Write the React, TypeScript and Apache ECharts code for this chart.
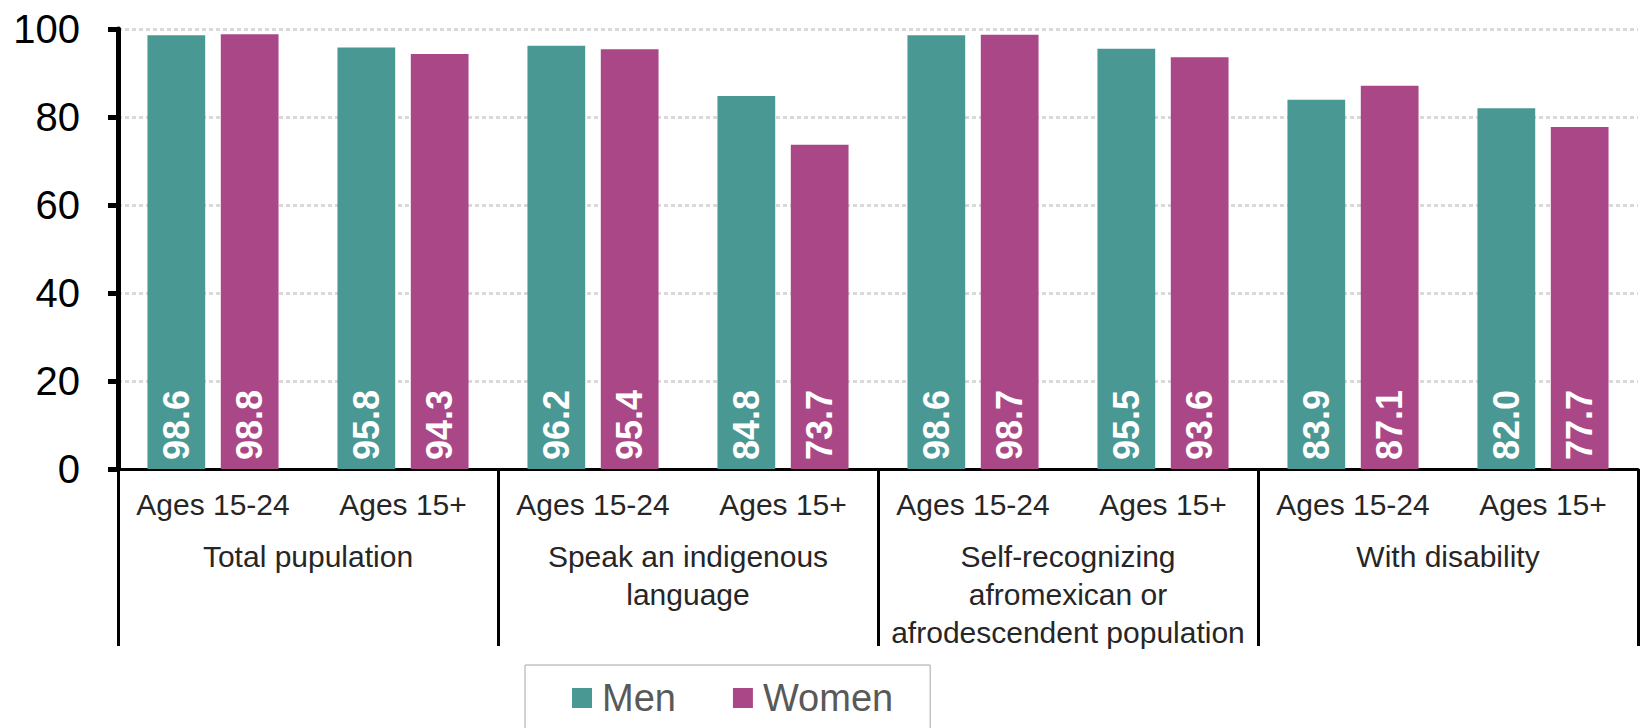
import React, { useEffect, useRef } from "react";
import * as echarts from "echarts";

const categories = [
  "Ages 15-24", "Ages 15+",
  "Ages 15-24", "Ages 15+",
  "Ages 15-24", "Ages 15+",
  "Ages 15-24", "Ages 15+",
];
const groups = [
  "Total pupulation",
  "Speak an indigenous\nlanguage",
  "Self-recognizing\nafromexican or\nafrodescendent population",
  "With disability",
];
const menValues = [98.6, 95.8, 96.2, 84.8, 98.6, 95.5, 83.9, 82.0];
const womenValues = [98.8, 94.3, 95.4, 73.7, 98.7, 93.6, 87.1, 77.7];
const yTicks = [0, 20, 40, 60, 80, 100];

const FONT = "'Liberation Sans', Arial, sans-serif";
const TEAL = "#4A9893";
const MAGENTA = "#AA4887";

export default function App() {
  const ref = useRef<HTMLDivElement>(null);
  useEffect(() => {
    if (!ref.current) return;
    const chart = echarts.init(ref.current, undefined, { renderer: "svg" });
    const valueLabel = {
      show: true,
      position: "insideBottom",
      rotate: 90,
      align: "left",
      verticalAlign: "middle",
      distance: 9,
      color: "#ffffff",
      fontFamily: FONT,
      fontWeight: "bold",
      fontSize: 36,
      formatter: (p: any) => Number(p.value).toFixed(1),
    };
    chart.setOption({
      animation: false,
      textStyle: { fontFamily: FONT },
      grid: { left: 118, right: 2, top: 29, bottom: 259, containLabel: false },
      legend: {
        show: true,
        left: 525,
        top: 665,
        icon: "rect",
        itemWidth: 20,
        itemHeight: 20,
        itemGap: 57,
        padding: [14, 37, 40, 47],
        borderColor: "#a6a6a6",
        borderWidth: 1,
        textStyle: { fontFamily: FONT, fontSize: 38, color: "#595959", padding: [0, 0, 0, 5] },
        data: ["Men", "Women"],
      },
      xAxis: [
        {
          type: "category",
          data: categories,
          position: "bottom",
          axisLine: { show: true, lineStyle: { color: "#000", width: 3 } },
          axisTick: { show: false },
          axisLabel: {
            interval: 0,
            margin: 20,
            fontFamily: FONT,
            fontSize: 30,
            lineHeight: 30,
            color: "#262626",
          },
        },
        {
          type: "category",
          data: groups,
          position: "bottom",
          axisLine: { show: false },
          axisTick: {
            show: true,
            interval: 0,
            length: 177,
            lineStyle: { color: "#000", width: 3 },
          },
          axisLabel: {
            interval: 0,
            margin: 68,
            fontFamily: FONT,
            fontSize: 30,
            lineHeight: 38,
            color: "#262626",
            align: "center",
          },
        },
      ],
      yAxis: {
        type: "value",
        min: yTicks[0],
        max: yTicks[yTicks.length - 1],
        interval: 20,
        axisLine: { show: true, lineStyle: { color: "#000", width: 5 } },
        axisTick: { show: true, length: 10, lineStyle: { color: "#000", width: 5 } },
        axisLabel: {
          margin: 38,
          fontFamily: FONT,
          fontSize: 40,
          color: "#000",
        },
        splitLine: {
          show: true,
          lineStyle: { color: "#d9d9d9", width: 3, type: [4, 3] },
        },
      },
      series: [
        {
          name: "Men",
          type: "bar",
          xAxisIndex: 0,
          data: menValues,
          barGap: "27%",
          barCategoryGap: "31%",
          itemStyle: { color: TEAL },
          label: valueLabel,
        },
        {
          name: "Women",
          type: "bar",
          xAxisIndex: 0,
          data: womenValues,
          barGap: "27%",
          barCategoryGap: "31%",
          itemStyle: { color: MAGENTA },
          label: valueLabel,
        },
      ],
    });
    return () => chart.dispose();
  }, []);
  return (
    <div
      ref={ref}
      style={{ position: "fixed", left: 0, top: 0, width: 1640, height: 728, background: "#fff" }}
    />
  );
}
